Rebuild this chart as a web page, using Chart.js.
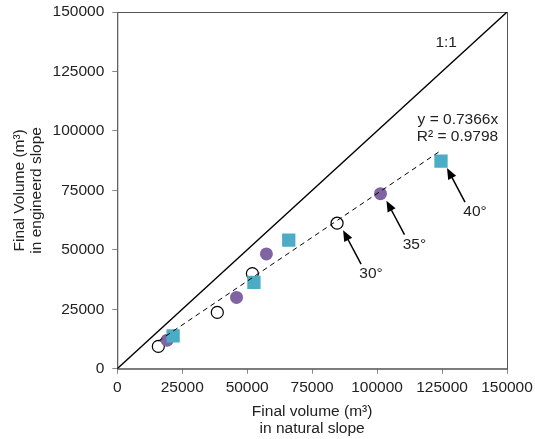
<!DOCTYPE html>
<html>
<head>
<meta charset="utf-8">
<script src="https://cdn.jsdelivr.net/npm/chart.js@4.4.1/dist/chart.umd.min.js"></script>
<style>
  html, body { margin: 0; padding: 0; background: #fff; }
  #wrap { width: 535px; height: 439px; }
</style>
</head>
<body>
<div id="wrap"><canvas id="myChart"></canvas></div>
<script>
// final volume (m3): natural slope (x) vs engineered slope (y)
const slope30X = [15800, 38500, 52000, 84600];
const slope30Y = [9400, 23700, 40000, 61200];
const slope35X = [19200, 45900, 57400, 101300];
const slope35Y = [12000, 30000, 48300, 73600];
const slope40X = [21500, 52600, 66000, 124600];
const slope40Y = [13800, 36300, 54100, 87300];
const axisTicks = [0, 25000, 50000, 75000, 100000, 125000, 150000];
const trendSlope = 0.7366;
const trendR2 = 0.9798;
const angleLabels = ['30°', '35°', '40°'];

function pts(xs, ys) {
  return xs.map((x, i) => ({ x: x, y: ys[i] }));
}

const allX = slope30X.concat(slope35X, slope40X);
const xMin = Math.min(...allX);
const xMax = Math.max(...allX);
const trend = [
  { x: xMin, y: xMin * trendSlope },
  { x: xMax, y: xMax * trendSlope }
];
const oneToOne = [
  { x: axisTicks[0], y: axisTicks[0] },
  { x: axisTicks[axisTicks.length - 1], y: axisTicks[axisTicks.length - 1] }
];

const FONT = "'Liberation Sans', Arial, sans-serif";
const FS = 15.5;
const TXT = '#222';

// box around plot + text / arrows
const extras = {
  id: 'extras',
  beforeDatasetsDraw(chart) {
    const a = chart.chartArea, c = chart.ctx;
    c.save();
    c.strokeStyle = '#555';
    c.lineWidth = 1;
    c.strokeRect(a.left + 0.5, a.top + 0.5, a.right - a.left, a.bottom - a.top);
    c.restore();
  },
  afterDatasetsDraw(chart) {
    const c = chart.ctx;
    const xs = chart.scales.x, ys = chart.scales.y;
    c.save();
    c.fillStyle = TXT;
    c.font = FS + 'px ' + FONT;
    c.textBaseline = 'middle';

    c.textAlign = 'center';
    c.fillText('1:1', xs.getPixelForValue(126600), ys.getPixelForValue(137000));

    c.textAlign = 'right';
    const ex = xs.getPixelForValue(146600), ey = ys.getPixelForValue(104500);
    c.fillText('y = ' + trendSlope + 'x', ex, ey);
    c.fillText('R² = ' + trendR2, ex, ey + 17);

    // arrows pointing at the last point of each series
    const lasts = [
      [slope30X[3], slope30Y[3]],
      [slope35X[3], slope35Y[3]],
      [slope40X[3], slope40Y[3]]
    ];
    c.textAlign = 'center';
    lasts.forEach((p, i) => {
      const px = xs.getPixelForValue(p[0]), py = ys.getPixelForValue(p[1]);
      const tx = px + 6, ty = py + 7;
      const sx = px + 24, sy = py + 41;
      const ang = Math.atan2(ty - sy, tx - sx);
      c.strokeStyle = '#000';
      c.lineWidth = 1.5;
      c.beginPath();
      c.moveTo(sx, sy);
      c.lineTo(tx - Math.cos(ang) * 6, ty - Math.sin(ang) * 6);
      c.stroke();
      c.fillStyle = '#000';
      c.beginPath();
      c.moveTo(tx, ty);
      c.lineTo(tx - Math.cos(ang) * 11 + Math.sin(ang) * 4.5, ty - Math.sin(ang) * 11 - Math.cos(ang) * 4.5);
      c.lineTo(tx - Math.cos(ang) * 11 - Math.sin(ang) * 4.5, ty - Math.sin(ang) * 11 + Math.cos(ang) * 4.5);
      c.closePath();
      c.fill();
      c.fillStyle = TXT;
      c.fillText(angleLabels[i], px + 34, py + 51);
    });
    c.restore();
  }
};

const ctx = document.getElementById('myChart');

new Chart(ctx, {
  type: 'scatter',
  data: {
    datasets: [
      {
        label: 'trend',
        data: trend,
        showLine: true,
        borderColor: '#000',
        borderWidth: 1,
        borderDash: [5, 4],
        pointRadius: 0,
        order: 0
      },
      {
        label: '40°',
        data: pts(slope40X, slope40Y),
        pointStyle: 'rect',
        pointRadius: 9.4,
        backgroundColor: '#4bacc6',
        borderColor: '#4bacc6',
        borderWidth: 0,
        order: 1
      },
      {
        label: '35°',
        data: pts(slope35X, slope35Y),
        pointRadius: 6.5,
        backgroundColor: '#8064a2',
        borderColor: '#8064a2',
        borderWidth: 0,
        order: 2
      },
      {
        label: '30°',
        data: pts(slope30X, slope30Y),
        pointRadius: 6,
        backgroundColor: '#fff',
        borderColor: '#000',
        borderWidth: 1.2,
        order: 3
      },
      {
        label: '1:1',
        data: oneToOne,
        showLine: true,
        borderColor: '#000',
        borderWidth: 1.3,
        pointRadius: 0,
        order: 4
      }
    ]
  },
  options: {
    responsive: true,
    maintainAspectRatio: false,
    animation: false,
    layout: { padding: { left: 12, right: 0, top: 0, bottom: 1 } },
    plugins: {
      legend: { display: false },
      tooltip: { enabled: false }
    },
    scales: {
      x: {
        type: 'linear',
        min: 0,
        max: 150000,
        afterBuildTicks: (s) => { s.ticks = axisTicks.map(v => ({ value: v })); },
        afterFit: (s) => { s.paddingRight = 28; },
        ticks: { color: TXT, font: { family: FONT, size: FS }, padding: 5, maxRotation: 0, callback: (v) => String(v) },
        grid: { drawOnChartArea: false, drawTicks: true, tickLength: 5, color: '#888' },
        border: { display: true, color: '#888' },
        title: {
          display: true,
          text: ['Final volume (m³)', 'in natural slope'],
          color: TXT,
          font: { family: FONT, size: FS, lineHeight: 1.15 },
          padding: { top: 0, bottom: 0 }
        }
      },
      y: {
        type: 'linear',
        min: 0,
        max: 150000,
        afterBuildTicks: (s) => { s.ticks = axisTicks.map(v => ({ value: v })); },
        afterFit: (s) => { s.paddingTop = 12; },
        ticks: { color: TXT, font: { family: FONT, size: FS }, padding: 8, callback: (v) => String(v) },
        grid: { drawOnChartArea: false, drawTicks: true, tickLength: 5, color: '#888' },
        border: { display: true, color: '#888' },
        title: {
          display: true,
          text: ['Final Volume (m³)', 'in engineerd slope'],
          color: TXT,
          font: { family: FONT, size: FS, lineHeight: 1.05 },
          padding: { top: 0, bottom: 0 }
        }
      }
    }
  },
  plugins: [extras]
});
</script>
</body>
</html>
